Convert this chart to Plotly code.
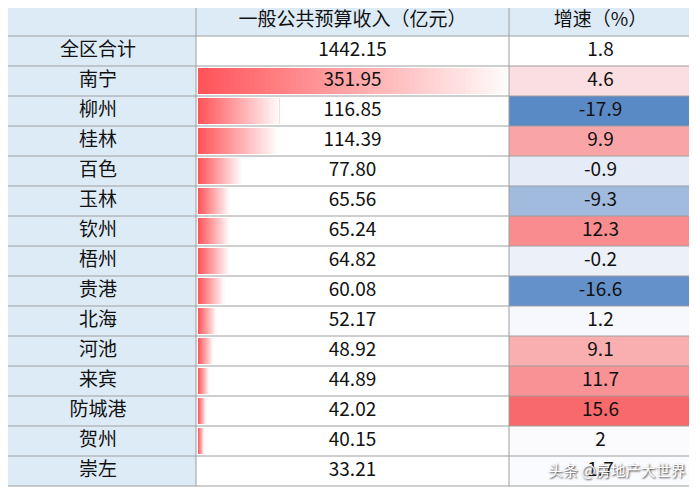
import plotly.graph_objects as go
import numpy as np

regions = ["全区合计","南宁","柳州","桂林","百色","玉林","钦州","梧州","贵港","北海","河池","来宾","防城港","贺州","崇左"]
revenue = [1442.15,351.95,116.85,114.39,77.80,65.56,65.24,64.82,60.08,52.17,48.92,44.89,42.02,40.15,33.21]
revenue_labels = ["1442.15","351.95","116.85","114.39","77.80","65.56","65.24","64.82","60.08","52.17","48.92","44.89","42.02","40.15","33.21"]
growth = [1.8,4.6,-17.9,9.9,-0.9,-9.3,12.3,-0.2,-16.6,1.2,9.1,11.7,15.6,2,1.7]
growth_labels = ["1.8","4.6","-17.9","9.9","-0.9","-9.3","12.3","-0.2","-16.6","1.2","9.1","11.7","15.6","2","1.7"]
headers = ["", "一般公共预算收入（亿元）", "增速（%）"]

C = [0, 196, 509, 692]
TOP, HH, RH = 3, 30, 30
n = len(regions)
yc = [TOP + HH + RH*(i+0.5) for i in range(n)]
FONT = "Noto Sans CJK SC"
XOFF, YOFF = 8, 5
fig = go.Figure()

hb = "#DDEBF7"
shapes = [dict(type="rect", x0=C[0], x1=C[3], y0=TOP, y1=TOP+HH, fillcolor=hb, line_width=0, layer="below"),
          dict(type="rect", x0=C[0], x1=C[1], y0=TOP+HH, y1=TOP+HH+RH*n, fillcolor=hb, line_width=0, layer="below")]

cities_v = np.array(revenue[1:])
vmin, vmax = cities_v.min(), cities_v.max()
full = C[2]-C[1]-4
lens = (cities_v - vmin)/(vmax - vmin)*full
N = 60
for k in range(N):
    t = k/(N-1)
    g = int(85 + (250-85)*t); b = int(90 + (250-90)*t)
    fig.add_trace(go.Bar(orientation="h", y=yc[1:], x=lens*(1-k/N), base=C[1]+2+lens*k/N,
                         width=26, marker=dict(color=f"rgb(255,{g},{b})", line_width=0),
                         hoverinfo="skip", showlegend=False))

gv = np.array(growth[1:])
gmin, gmed, gmax = gv.min(), float(np.median(gv)), gv.max()
lo, mid, hi = np.array([90,138,198]), np.array([252,252,255]), np.array([248,105,107])
cols = []
for v in gv:
    if v <= gmed:
        f = (gmed - v)/(gmed - gmin); c = mid + (lo-mid)*f
    else:
        f = (v - gmed)/(gmax - gmed); c = mid + (hi-mid)*f
    cols.append("rgb(%d,%d,%d)" % tuple(c))
fig.add_trace(go.Bar(orientation="h", y=yc[1:], x=[C[3]-C[2]]*(n-1), base=C[2], width=RH,
                     marker=dict(color=cols, line_width=0), hoverinfo="skip", showlegend=False))

lc = "#9E9E9E"
for i in range(n+2):
    y = TOP + (0 if i == 0 else HH + RH*(i-1))
    shapes.append(dict(type="line", x0=C[0], x1=C[3], y0=y, y1=y, line=dict(color=lc, width=1)))
for x in C:
    shapes.append(dict(type="line", x0=x, x1=x, y0=TOP, y1=TOP+HH+RH*n, line=dict(color=lc, width=1)))

tx = dict(family=FONT, size=19, color="#111")
common = dict(mode="text", textfont=tx, hoverinfo="skip", showlegend=False, cliponaxis=False)
fig.add_trace(go.Scatter(x=[(C[1]+C[2])/2, (C[2]+C[3])/2], y=[TOP+HH/2]*2, text=headers[1:], **common))
fig.add_trace(go.Scatter(x=[C[1]/2]*n, y=yc, text=regions, **common))
fig.add_trace(go.Scatter(x=[(C[1]+C[2])/2]*n, y=yc, text=revenue_labels, **common))
fig.add_trace(go.Scatter(x=[(C[2]+C[3])/2]*n, y=yc, text=growth_labels, **common))

fig.add_annotation(x=688, y=466, xref="x", yref="y", xanchor="right", text="头条 @房地产大世界", showarrow=False,
                   font=dict(family=FONT, size=15, color="white", shadow="1px 1px 2px #333"))

fig.update_layout(width=697, height=487, margin=dict(l=0, r=0, t=0, b=0), barmode="overlay",
                  plot_bgcolor="white", paper_bgcolor="white", shapes=shapes,
                  xaxis=dict(range=[XOFF, 697+XOFF], visible=False, fixedrange=True),
                  yaxis=dict(range=[487+YOFF, YOFF], visible=False, fixedrange=True))
fig.write_html("out.html")
